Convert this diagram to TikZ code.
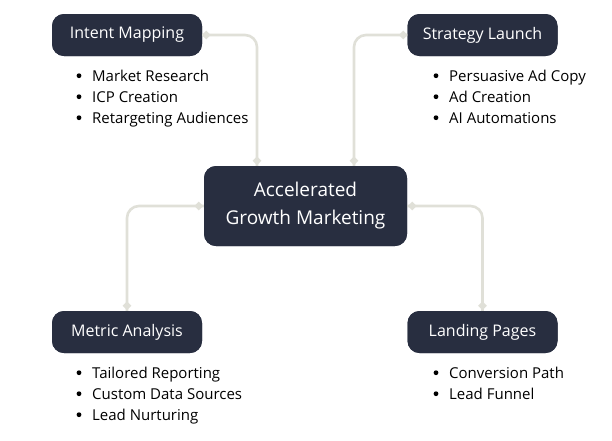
\documentclass[tikz,border=0pt]{standalone}
\usepackage{fontspec}
\setmainfont{Open Sans}
\usetikzlibrary{shapes.geometric}
\definecolor{boxfill}{HTML}{282E40}
\definecolor{linkc}{HTML}{E0E0D8}
\definecolor{itemc}{HTML}{000000}
\begin{document}
\begin{tikzpicture}[x=1pt,y=-1pt,
  topic/.style={rectangle, rounded corners=12pt, fill=boxfill, text=white,
    minimum width=150pt, minimum height=42pt, inner sep=0pt,
    font=\fontsize{16}{20}\selectfont},
  hub/.style={rectangle, rounded corners=12pt, fill=boxfill, text=white,
    minimum width=203pt, minimum height=80pt, inner sep=0pt, align=center,
    font=\fontsize{19}{28}\selectfont},
  item/.style={anchor=base west, inner sep=0pt, text=itemc,
    text height=11pt, text depth=3pt,
    font=\fontsize{15}{18}\selectfont},
  link/.style={draw=linkc, line width=2.6pt, rounded corners=12pt},
  tip/.style={diamond, fill=linkc, minimum size=9pt, inner sep=0pt},
  bullet/.style={fill=itemc}
]
\useasboundingbox (0,0) rectangle (612,440);
\fill[white] (0,0) rectangle (612,440);

\node[hub] (hub) at (305.5,206) {Accelerated\\Growth Marketing};
\node[topic] (im) at (127,35) {Intent Mapping};
\node[topic] (sl) at (482.5,35) {Strategy Launch};
\node[topic] (ma) at (127,332) {Metric Analysis};
\node[topic] (lp) at (482.5,332) {Landing Pages};

\draw[link] (im.east) -| ([xshift=-48.5pt]hub.north);
\draw[link] (sl.west) -| ([xshift=48.5pt]hub.north);
\draw[link] (ma.north) |- (hub.west);
\draw[link] (lp.north) |- (hub.east);

% redraw boxes on top of links
\node[hub] at (hub) {Accelerated\\Growth Marketing};
\node[topic] at (im) {Intent Mapping};
\node[topic] at (sl) {Strategy Launch};
\node[topic] at (ma) {Metric Analysis};
\node[topic] at (lp) {Landing Pages};

\node[tip] (t1) at ([xshift=4pt]im.east) {};
\node[tip] (t2) at ([xshift=-48.5pt,yshift=5pt]hub.north) {};
\node[tip] (t3) at ([xshift=-4pt]sl.west) {};
\node[tip] (t4) at ([xshift=48.5pt,yshift=5pt]hub.north) {};
\node[tip] (t5) at ([yshift=5pt]ma.north) {};
\node[tip] (t6) at ([xshift=-5pt]hub.west) {};
\node[tip] (t7) at ([yshift=5pt]lp.north) {};
\node[tip] (t8) at ([xshift=5pt]hub.east) {};

\node[item] (a1) at (92,81) {Market Research};
\node[item] (a2) at (92,102) {ICP Creation};
\node[item] (a3) at (92,123) {Retargeting Audiences};

\node[item] (b1) at (449,81) {Persuasive Ad Copy};
\node[item] (b2) at (449,102) {Ad Creation};
\node[item] (b3) at (449,123) {AI Automations};

\node[item] (c1) at (92,378) {Tailored Reporting};
\node[item] (c2) at (92,399) {Custom Data Sources};
\node[item] (c3) at (92,420) {Lead Nurturing};

\node[item] (d1) at (449,378) {Conversion Path};
\node[item] (d2) at (449,399) {Lead Funnel};

\foreach \n in {a1,a2,a3,b1,b2,b3,c1,c2,c3,d1,d2}
  \fill[bullet] ([xshift=-13pt,yshift=5.3pt]\n.base west) circle (2.4pt);
\end{tikzpicture}
\end{document}
